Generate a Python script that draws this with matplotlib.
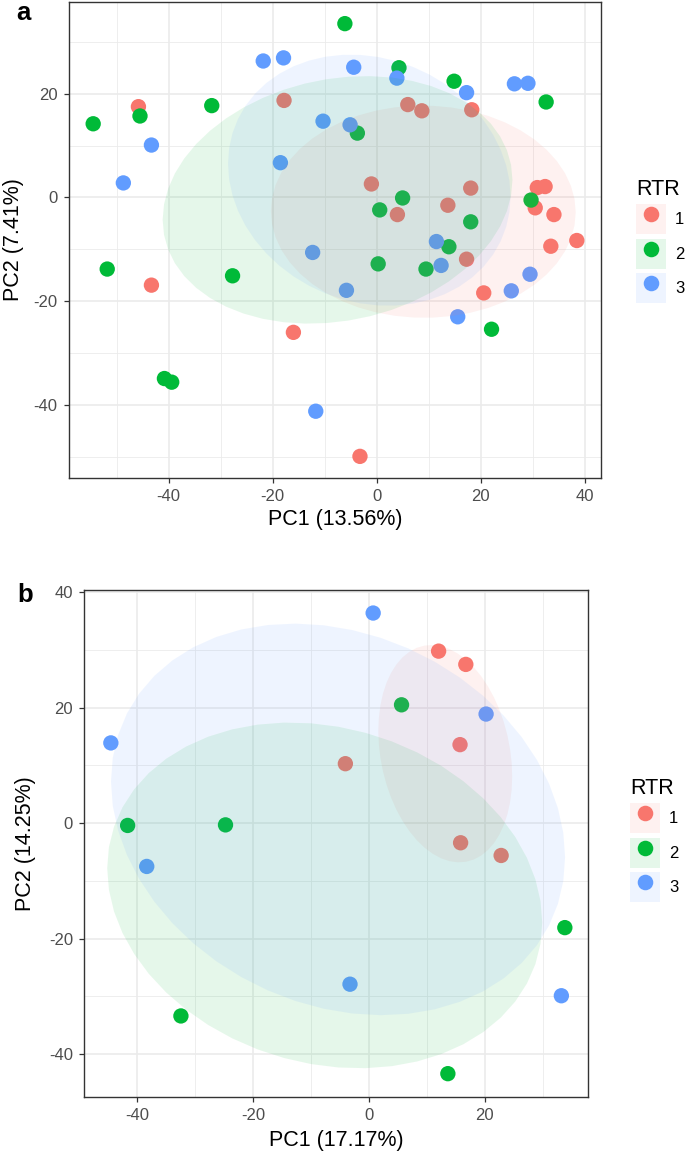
import numpy as np
import matplotlib.pyplot as plt
from matplotlib.patches import Polygon, Rectangle
from matplotlib.lines import Line2D
from matplotlib.legend_handler import HandlerTuple
from matplotlib.ticker import MultipleLocator

plt.rcParams['font.family'] = ['Liberation Sans', 'DejaVu Sans']
plt.rcParams['axes.unicode_minus'] = False

# groups and ggplot hue colours
rtr_levels = ['1', '2', '3']
rtr_colors = ['#F8766D', '#00BA38', '#619CFF']

# panel a: PCA scores per RTR group
a_pc1 = {
    '1': [-45.8, -17.8, 6.0, 8.7, 18.3, -1.0, 4.0, 13.7, 18.1, 30.9,
          32.4, 30.5, 34.1, 38.5, 33.5, 17.3, 20.6, -43.3, -16.0, -3.2],
    '2': [-54.5, -45.5, -31.7, -6.1, 4.3, 14.9, 32.6, -3.7, 5.0, 0.6,
          18.1, 29.7, 13.9, 0.3, 9.5, 22.1, -51.8, -27.7, -40.8, -39.4],
    '3': [-43.3, -48.7, -21.8, -17.9, -10.3, -18.5, -12.3, -4.4, -5.1, 3.9,
          17.3, 26.5, 29.1, 11.5, 12.4, 29.5, -5.8, 25.9, 15.6, -11.7],
}
a_pc2 = {
    '1': [17.5, 18.7, 17.9, 16.7, 16.9, 2.6, -3.3, -1.5, 1.8, 1.9,
          2.1, -2.0, -3.3, -8.3, -9.4, -11.9, -18.4, -16.9, -26.0, -49.9],
    '2': [14.2, 15.7, 17.7, 33.5, 25.0, 22.4, 18.4, 12.4, -0.1, -2.4,
          -4.7, -0.5, -9.5, -12.8, -13.8, -25.4, -13.8, -15.1, -34.9, -35.6],
    '3': [10.1, 2.8, 26.3, 26.9, 14.7, 6.7, -10.6, 25.1, 14.0, 23.0,
          20.2, 21.9, 22.0, -8.5, -13.1, -14.8, -17.9, -18.0, -23.0, -41.2],
}
a_xlabel = 'PC1 (13.56%)'
a_ylabel = 'PC2 (7.41%)'

# panel b
b_pc1 = {
    '1': [-4.1, 12.0, 16.7, 15.7, 15.8, 22.8],
    '2': [-41.7, -24.8, 5.6, -32.5, 33.8, 13.6],
    '3': [-44.6, -38.4, 0.7, 20.2, -3.3, 33.2],
}
b_pc2 = {
    '1': [10.3, 29.8, 27.5, 13.6, -3.4, -5.6],
    '2': [-0.4, -0.3, 20.5, -33.4, -18.1, -43.4],
    '3': [13.9, -7.5, 36.4, 18.9, -27.9, -29.9],
}
b_xlabel = 'PC1 (17.17%)'
b_ylabel = 'PC2 (14.25%)'


def data_ellipse(x, y, level=0.5, segments=51):
    # same as ggplot2 stat_ellipse(type = "norm")
    pts = np.column_stack([x, y])
    n = len(pts)
    center = pts.mean(axis=0)
    shape = np.cov(pts, rowvar=False)
    dfd = n - 1
    fq = dfd / 2 * ((1 - level) ** (-2 / dfd) - 1)  # qf(level, 2, dfd)
    radius = np.sqrt(2 * fq)
    t = np.linspace(0, 2 * np.pi, segments)
    circle = np.column_stack([np.cos(t), np.sin(t)])
    chol = np.linalg.cholesky(shape)
    return center + radius * circle @ chol.T


def pca_panel(ax, pc1, pc2, xlabel, ylabel, xlab_y, ylab_x):
    allx, ally = [], []
    for lev, col in zip(rtr_levels, rtr_colors):
        ax.scatter(pc1[lev], pc2[lev], s=122, color=col, edgecolors='none', zorder=2)
        allx += pc1[lev]
        ally += pc2[lev]
    for lev, col in zip(rtr_levels, rtr_colors):
        ell = data_ellipse(pc1[lev], pc2[lev])
        ax.add_patch(Polygon(ell, closed=True, facecolor=col, edgecolor='none',
                             alpha=0.1, zorder=3))
        allx += list(ell[:, 0])
        ally += list(ell[:, 1])
    # ggplot style 5% expansion
    for vals, setter in ((allx, ax.set_xlim), (ally, ax.set_ylim)):
        lo, hi = min(vals), max(vals)
        pad = 0.05 * (hi - lo)
        setter(lo - pad, hi + pad)

    ax.xaxis.set_major_locator(MultipleLocator(20))
    ax.yaxis.set_major_locator(MultipleLocator(20))
    ax.xaxis.set_minor_locator(MultipleLocator(10))
    ax.yaxis.set_minor_locator(MultipleLocator(10))
    ax.grid(which='major', color='#EBEBEB', linewidth=1.2, zorder=0)
    ax.grid(which='minor', color='#EBEBEB', linewidth=0.6, zorder=0)
    ax.set_axisbelow(True)
    ax.tick_params(which='major', length=3.7, width=0.9, color='#333333',
                   labelsize=12, labelcolor='#4D4D4D', pad=4.5)
    ax.tick_params(which='minor', length=0)
    for sp in ax.spines.values():
        sp.set_color('#333333')
        sp.set_linewidth(1.0)
    ax.set_xlabel(xlabel, fontsize=15.5)
    ax.set_ylabel(ylabel, fontsize=15.5)
    ax.xaxis.set_label_coords(0.5, xlab_y)
    ax.xaxis.label.set_verticalalignment('center')
    ax.yaxis.set_label_coords(ylab_x, 0.5)
    ax.yaxis.label.set_verticalalignment('center')


def rtr_legend(ax, fig, x, y):
    handles = []
    for col in rtr_colors:
        box = Rectangle((0, 0), 1, 1, facecolor=col, alpha=0.1, edgecolor='none')
        dot = Line2D([], [], marker='o', linestyle='', markersize=11.2,
                     markerfacecolor=col, markeredgecolor='none')
        handles.append((box, dot))
    leg = ax.legend(handles, rtr_levels, handler_map={tuple: HandlerTuple(ndivide=1)},
                    title='RTR', loc='center left', bbox_to_anchor=(x, y),
                    bbox_transform=fig.transFigure, frameon=False,
                    fontsize=12, title_fontsize=15.5, alignment='left',
                    handlelength=1.8, handleheight=2.39, handletextpad=0.55,
                    labelspacing=0.27, borderpad=0, borderaxespad=0)
    return leg


W, H = 685, 1154
fig = plt.figure(figsize=(W / 100, H / 100), dpi=100)

ax_a = fig.add_axes([69 / W, 1 - 478 / H, (601 - 69) / W, (478 - 2) / H])
pca_panel(ax_a, a_pc1, a_pc2, a_xlabel, a_ylabel, -0.0882, -0.1034)
rtr_legend(ax_a, fig, 636 / W, 1 - 241 / H)

ax_b = fig.add_axes([84.3 / W, 1 - 1096.7 / H, (588 - 84.3) / W, (1096.7 - 590) / H])
pca_panel(ax_b, b_pc1, b_pc2, b_xlabel, b_ylabel, -0.0855, -0.1167)
rtr_legend(ax_b, fig, 630 / W, 1 - 840 / H)

fig.text(23 / W, 1 - 13 / H, 'a', fontsize=18.5, fontweight='bold', ha='center', va='center')
fig.text(25 / W, 1 - 595 / H, 'b', fontsize=18.5, fontweight='bold', ha='center', va='center')

fig.savefig('out.png', dpi=100)
